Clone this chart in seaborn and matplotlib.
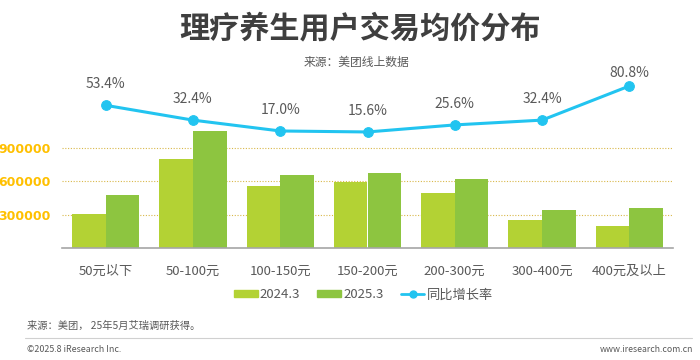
import matplotlib
matplotlib.use("Agg")
import matplotlib.pyplot as plt
from matplotlib.lines import Line2D
from matplotlib.patches import Patch
import seaborn as sns
import pandas as pd
import numpy as np

categories = ["50元以下", "50-100元", "100-150元", "150-200元", "200-300元", "300-400元", "400元及以上"]
users_2024 = [305000, 800000, 561000, 592000, 493000, 255000, 195000]
users_2025 = [474000, 1055000, 658000, 678000, 619000, 345000, 360000]
growth = [53.4, 32.4, 17.0, 15.6, 25.6, 32.4, 80.8]
series_names = ["2024.3", "2025.3"]

C24 = "#B3D234"
C25 = "#8DC540"
CLINE = "#22C4F0"
GOLD = "#FFC000"
GRAY = "#595959"

sns.set_style("white")
plt.rcParams["font.family"] = ["Noto Sans CJK SC", "DejaVu Sans"]

df = pd.DataFrame({
    "cat": categories * 2,
    "val": users_2024 + users_2025,
    "year": [series_names[0]] * 7 + [series_names[1]] * 7,
})

fig = plt.figure(figsize=(7, 3.6), dpi=100)
ax = fig.add_axes([62 / 700, 1 - 248 / 360, 611 / 700, 178 / 360])

sns.barplot(data=df, x="cat", y="val", hue="year", palette=[C24, C25],
            width=0.77, gap=0, ax=ax, legend=False, saturation=1)
for p in ax.patches:
    p.set_edgecolor("none")

ax.set_xlim(-0.5, 6.5)
ax.set_ylim(0, 1603000)
ax.set_yticks([300000, 600000, 900000])
ax.set_yticklabels(["300000", "600000", "900000"], color=GOLD,
                   fontweight="bold", fontsize=9, family="DejaVu Sans")
ax.yaxis.grid(True, linestyle=(0, (1, 1.5)), color="#D9B84A", linewidth=0.8)
ax.set_axisbelow(True)
ax.tick_params(axis="both", length=0)
ax.tick_params(axis="y", pad=8)
ax.tick_params(axis="x", pad=12, labelsize=9.5, labelcolor=GRAY)
ax.set_xlabel("")
ax.set_ylabel("")
for s in ["left", "right", "top"]:
    ax.spines[s].set_visible(False)
ax.spines["bottom"].set_color("#A6A6A6")
ax.spines["bottom"].set_linewidth(1.2)

ax2 = ax.twinx()
xs = np.arange(len(categories))
sns.lineplot(x=xs, y=growth, ax=ax2, color=CLINE, linewidth=2.2,
             marker="o", markersize=7, markeredgecolor=CLINE)
ax2.set_ylim(-149, 103.5)
ax2.set_xlim(-0.5, 6.5)
ax2.axis("off")
for x, g in zip(xs, growth):
    off = 4 if x == len(xs) - 1 else 10
    ax2.annotate(f"{g:.1f}%", (x, g), xytext=(0, off), textcoords="offset points",
                 ha="center", va="bottom", fontsize=10, color=GRAY)

fig.text(360 / 700, 1 - 28 / 360, "理疗养生用户交易均价分布", ha="center", va="center",
         fontsize=21.7, fontweight="heavy", color="#3F3F3F")
fig.text(357 / 700, 1 - 62 / 360, "来源：美团线上数据", ha="center", va="center",
         fontsize=8.5, color=GRAY)

handles = [Patch(color=C24), Patch(color=C25),
           Line2D([0], [0], color=CLINE, lw=2, marker="o", markersize=5)]
fig.legend(handles, series_names + ["同比增长率"], loc="center",
           bbox_to_anchor=(0.519, 1 - 295 / 360), ncol=3, frameon=False,
           fontsize=9.5, handlelength=1.8, handleheight=0.45, columnspacing=1.3,
           handletextpad=0.15, labelcolor=GRAY)

fig.text(27 / 700, 1 - 326 / 360, "来源：美团， 25年5月艾瑞调研获得。", ha="left", va="center",
         fontsize=7.4, color=GRAY)
fig.add_artist(Line2D([25 / 700, 692 / 700], [1 - 338 / 360, 1 - 338 / 360],
                      color="#D0D0D0", lw=0.8))
fig.text(27 / 700, 1 - 349 / 360, "©2025.8 iResearch Inc.", ha="left", va="center",
         fontsize=6.4, color=GRAY)
fig.text(693 / 700, 1 - 349 / 360, "www.iresearch.com.cn", ha="right", va="center",
         fontsize=6.3, color=GRAY)

fig.savefig("out.png", dpi=100)
